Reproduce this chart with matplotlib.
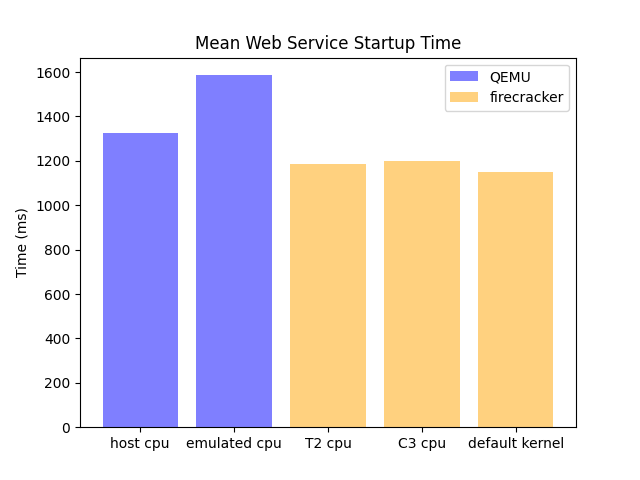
import matplotlib
matplotlib.use("Agg")
import matplotlib.pyplot as plt

# data
qemu_labels = ["host cpu", "emulated cpu"]
qemu_times = [1325, 1586]
fc_labels = ["T2 cpu", "C3 cpu", "default kernel"]
fc_times = [1186, 1199, 1150]

fig, ax = plt.subplots(figsize=(6.4, 4.8), dpi=100)
ax.bar(qemu_labels, qemu_times, color="blue", alpha=0.5, label="QEMU")
ax.bar(fc_labels, fc_times, color="orange", alpha=0.5, label="firecracker")
ax.set_ylabel("Time (ms)")
ax.set_title("Mean Web Service Startup Time")
ax.legend()

fig.savefig("out.png")
